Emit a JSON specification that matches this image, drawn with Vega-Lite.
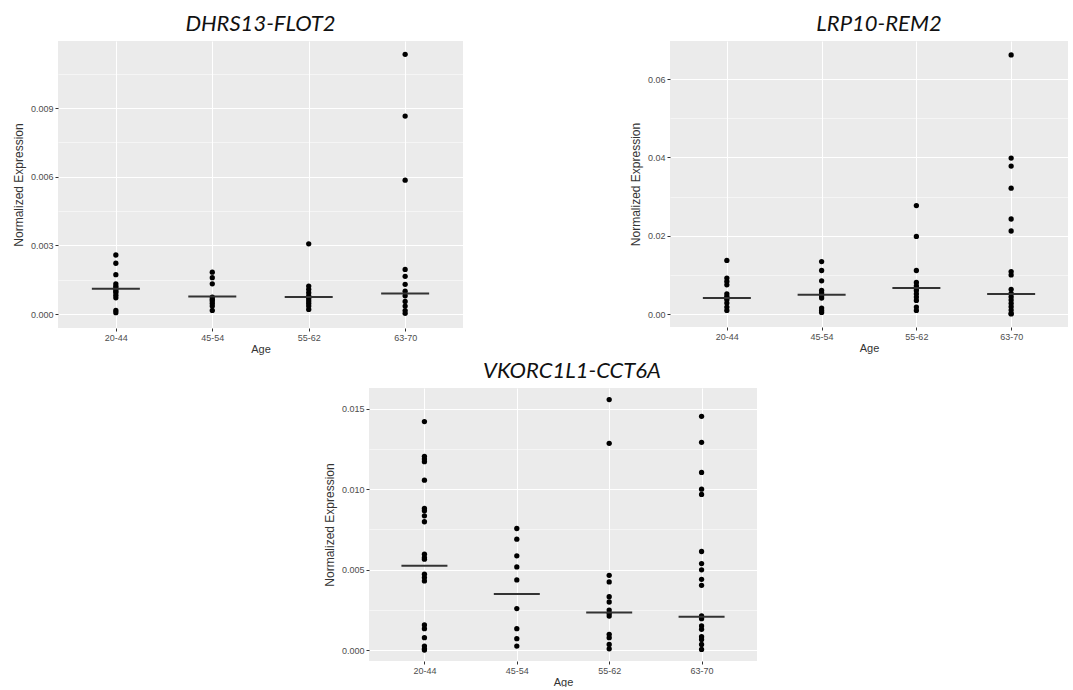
{
  "$schema": "https://vega.github.io/schema/vega-lite/v6.json",
  "background": "white",
  "padding": {"left": 12, "top": 13, "right": 0, "bottom": 0},
  "datasets": {
    "pts": [
      {"gene": "DHRS13-FLOT2", "age": "20-44", "value": 0.00258},
      {"gene": "DHRS13-FLOT2", "age": "20-44", "value": 0.00222},
      {"gene": "DHRS13-FLOT2", "age": "20-44", "value": 0.00172},
      {"gene": "DHRS13-FLOT2", "age": "20-44", "value": 0.00132},
      {"gene": "DHRS13-FLOT2", "age": "20-44", "value": 0.00122},
      {"gene": "DHRS13-FLOT2", "age": "20-44", "value": 0.00115},
      {"gene": "DHRS13-FLOT2", "age": "20-44", "value": 0.00108},
      {"gene": "DHRS13-FLOT2", "age": "20-44", "value": 0.00100},
      {"gene": "DHRS13-FLOT2", "age": "20-44", "value": 0.00093},
      {"gene": "DHRS13-FLOT2", "age": "20-44", "value": 0.00082},
      {"gene": "DHRS13-FLOT2", "age": "20-44", "value": 0.00071},
      {"gene": "DHRS13-FLOT2", "age": "20-44", "value": 0.00016},
      {"gene": "DHRS13-FLOT2", "age": "20-44", "value": 0.00006},
      {"gene": "DHRS13-FLOT2", "age": "45-54", "value": 0.00183},
      {"gene": "DHRS13-FLOT2", "age": "45-54", "value": 0.00159},
      {"gene": "DHRS13-FLOT2", "age": "45-54", "value": 0.00132},
      {"gene": "DHRS13-FLOT2", "age": "45-54", "value": 0.00074},
      {"gene": "DHRS13-FLOT2", "age": "45-54", "value": 0.00065},
      {"gene": "DHRS13-FLOT2", "age": "45-54", "value": 0.00057},
      {"gene": "DHRS13-FLOT2", "age": "45-54", "value": 0.00046},
      {"gene": "DHRS13-FLOT2", "age": "45-54", "value": 0.00035},
      {"gene": "DHRS13-FLOT2", "age": "45-54", "value": 0.00016},
      {"gene": "DHRS13-FLOT2", "age": "55-62", "value": 0.00307},
      {"gene": "DHRS13-FLOT2", "age": "55-62", "value": 0.00122},
      {"gene": "DHRS13-FLOT2", "age": "55-62", "value": 0.00108},
      {"gene": "DHRS13-FLOT2", "age": "55-62", "value": 0.00093},
      {"gene": "DHRS13-FLOT2", "age": "55-62", "value": 0.00079},
      {"gene": "DHRS13-FLOT2", "age": "55-62", "value": 0.00068},
      {"gene": "DHRS13-FLOT2", "age": "55-62", "value": 0.00057},
      {"gene": "DHRS13-FLOT2", "age": "55-62", "value": 0.00046},
      {"gene": "DHRS13-FLOT2", "age": "55-62", "value": 0.00035},
      {"gene": "DHRS13-FLOT2", "age": "55-62", "value": 0.00020},
      {"gene": "DHRS13-FLOT2", "age": "63-70", "value": 0.01135},
      {"gene": "DHRS13-FLOT2", "age": "63-70", "value": 0.00865},
      {"gene": "DHRS13-FLOT2", "age": "63-70", "value": 0.00585},
      {"gene": "DHRS13-FLOT2", "age": "63-70", "value": 0.00195},
      {"gene": "DHRS13-FLOT2", "age": "63-70", "value": 0.00165},
      {"gene": "DHRS13-FLOT2", "age": "63-70", "value": 0.00130},
      {"gene": "DHRS13-FLOT2", "age": "63-70", "value": 0.00100},
      {"gene": "DHRS13-FLOT2", "age": "63-70", "value": 0.00080},
      {"gene": "DHRS13-FLOT2", "age": "63-70", "value": 0.00055},
      {"gene": "DHRS13-FLOT2", "age": "63-70", "value": 0.00035},
      {"gene": "DHRS13-FLOT2", "age": "63-70", "value": 0.00015},
      {"gene": "DHRS13-FLOT2", "age": "63-70", "value": 0.00003},
      {"gene": "LRP10-REM2", "age": "20-44", "value": 0.01368},
      {"gene": "LRP10-REM2", "age": "20-44", "value": 0.00918},
      {"gene": "LRP10-REM2", "age": "20-44", "value": 0.00832},
      {"gene": "LRP10-REM2", "age": "20-44", "value": 0.00747},
      {"gene": "LRP10-REM2", "age": "20-44", "value": 0.00518},
      {"gene": "LRP10-REM2", "age": "20-44", "value": 0.00449},
      {"gene": "LRP10-REM2", "age": "20-44", "value": 0.00408},
      {"gene": "LRP10-REM2", "age": "20-44", "value": 0.00365},
      {"gene": "LRP10-REM2", "age": "20-44", "value": 0.00280},
      {"gene": "LRP10-REM2", "age": "20-44", "value": 0.00179},
      {"gene": "LRP10-REM2", "age": "20-44", "value": 0.00092},
      {"gene": "LRP10-REM2", "age": "45-54", "value": 0.01341},
      {"gene": "LRP10-REM2", "age": "45-54", "value": 0.01112},
      {"gene": "LRP10-REM2", "age": "45-54", "value": 0.00849},
      {"gene": "LRP10-REM2", "age": "45-54", "value": 0.00602},
      {"gene": "LRP10-REM2", "age": "45-54", "value": 0.00536},
      {"gene": "LRP10-REM2", "age": "45-54", "value": 0.00467},
      {"gene": "LRP10-REM2", "age": "45-54", "value": 0.00408},
      {"gene": "LRP10-REM2", "age": "45-54", "value": 0.00153},
      {"gene": "LRP10-REM2", "age": "45-54", "value": 0.00092},
      {"gene": "LRP10-REM2", "age": "45-54", "value": 0.00041},
      {"gene": "LRP10-REM2", "age": "55-62", "value": 0.02770},
      {"gene": "LRP10-REM2", "age": "55-62", "value": 0.01983},
      {"gene": "LRP10-REM2", "age": "55-62", "value": 0.01112},
      {"gene": "LRP10-REM2", "age": "55-62", "value": 0.00806},
      {"gene": "LRP10-REM2", "age": "55-62", "value": 0.00722},
      {"gene": "LRP10-REM2", "age": "55-62", "value": 0.00663},
      {"gene": "LRP10-REM2", "age": "55-62", "value": 0.00602},
      {"gene": "LRP10-REM2", "age": "55-62", "value": 0.00518},
      {"gene": "LRP10-REM2", "age": "55-62", "value": 0.00434},
      {"gene": "LRP10-REM2", "age": "55-62", "value": 0.00347},
      {"gene": "LRP10-REM2", "age": "55-62", "value": 0.00179},
      {"gene": "LRP10-REM2", "age": "55-62", "value": 0.00092},
      {"gene": "LRP10-REM2", "age": "63-70", "value": 0.06615},
      {"gene": "LRP10-REM2", "age": "63-70", "value": 0.03983},
      {"gene": "LRP10-REM2", "age": "63-70", "value": 0.03778},
      {"gene": "LRP10-REM2", "age": "63-70", "value": 0.03214},
      {"gene": "LRP10-REM2", "age": "63-70", "value": 0.02427},
      {"gene": "LRP10-REM2", "age": "63-70", "value": 0.02120},
      {"gene": "LRP10-REM2", "age": "63-70", "value": 0.01085},
      {"gene": "LRP10-REM2", "age": "63-70", "value": 0.01000},
      {"gene": "LRP10-REM2", "age": "63-70", "value": 0.00632},
      {"gene": "LRP10-REM2", "age": "63-70", "value": 0.00530},
      {"gene": "LRP10-REM2", "age": "63-70", "value": 0.00444},
      {"gene": "LRP10-REM2", "age": "63-70", "value": 0.00359},
      {"gene": "LRP10-REM2", "age": "63-70", "value": 0.00274},
      {"gene": "LRP10-REM2", "age": "63-70", "value": 0.00188},
      {"gene": "LRP10-REM2", "age": "63-70", "value": 0.00103},
      {"gene": "LRP10-REM2", "age": "63-70", "value": 0.00017},
      {"gene": "LRP10-REM2", "age": "63-70", "value": 0.00005},
      {"gene": "VKORC1L1-CCT6A", "age": "20-44", "value": 0.01421},
      {"gene": "VKORC1L1-CCT6A", "age": "20-44", "value": 0.01205},
      {"gene": "VKORC1L1-CCT6A", "age": "20-44", "value": 0.01188},
      {"gene": "VKORC1L1-CCT6A", "age": "20-44", "value": 0.01172},
      {"gene": "VKORC1L1-CCT6A", "age": "20-44", "value": 0.01057},
      {"gene": "VKORC1L1-CCT6A", "age": "20-44", "value": 0.00881},
      {"gene": "VKORC1L1-CCT6A", "age": "20-44", "value": 0.00866},
      {"gene": "VKORC1L1-CCT6A", "age": "20-44", "value": 0.00835},
      {"gene": "VKORC1L1-CCT6A", "age": "20-44", "value": 0.00798},
      {"gene": "VKORC1L1-CCT6A", "age": "20-44", "value": 0.00596},
      {"gene": "VKORC1L1-CCT6A", "age": "20-44", "value": 0.00575},
      {"gene": "VKORC1L1-CCT6A", "age": "20-44", "value": 0.00565},
      {"gene": "VKORC1L1-CCT6A", "age": "20-44", "value": 0.00472},
      {"gene": "VKORC1L1-CCT6A", "age": "20-44", "value": 0.00451},
      {"gene": "VKORC1L1-CCT6A", "age": "20-44", "value": 0.00430},
      {"gene": "VKORC1L1-CCT6A", "age": "20-44", "value": 0.00156},
      {"gene": "VKORC1L1-CCT6A", "age": "20-44", "value": 0.00133},
      {"gene": "VKORC1L1-CCT6A", "age": "20-44", "value": 0.00077},
      {"gene": "VKORC1L1-CCT6A", "age": "20-44", "value": 0.00025},
      {"gene": "VKORC1L1-CCT6A", "age": "20-44", "value": 0.00008},
      {"gene": "VKORC1L1-CCT6A", "age": "20-44", "value": 0.00000},
      {"gene": "VKORC1L1-CCT6A", "age": "45-54", "value": 0.00756},
      {"gene": "VKORC1L1-CCT6A", "age": "45-54", "value": 0.00690},
      {"gene": "VKORC1L1-CCT6A", "age": "45-54", "value": 0.00586},
      {"gene": "VKORC1L1-CCT6A", "age": "45-54", "value": 0.00517},
      {"gene": "VKORC1L1-CCT6A", "age": "45-54", "value": 0.00436},
      {"gene": "VKORC1L1-CCT6A", "age": "45-54", "value": 0.00258},
      {"gene": "VKORC1L1-CCT6A", "age": "45-54", "value": 0.00133},
      {"gene": "VKORC1L1-CCT6A", "age": "45-54", "value": 0.00071},
      {"gene": "VKORC1L1-CCT6A", "age": "45-54", "value": 0.00025},
      {"gene": "VKORC1L1-CCT6A", "age": "55-62", "value": 0.01558},
      {"gene": "VKORC1L1-CCT6A", "age": "55-62", "value": 0.01286},
      {"gene": "VKORC1L1-CCT6A", "age": "55-62", "value": 0.00465},
      {"gene": "VKORC1L1-CCT6A", "age": "55-62", "value": 0.00424},
      {"gene": "VKORC1L1-CCT6A", "age": "55-62", "value": 0.00332},
      {"gene": "VKORC1L1-CCT6A", "age": "55-62", "value": 0.00299},
      {"gene": "VKORC1L1-CCT6A", "age": "55-62", "value": 0.00249},
      {"gene": "VKORC1L1-CCT6A", "age": "55-62", "value": 0.00229},
      {"gene": "VKORC1L1-CCT6A", "age": "55-62", "value": 0.00212},
      {"gene": "VKORC1L1-CCT6A", "age": "55-62", "value": 0.00098},
      {"gene": "VKORC1L1-CCT6A", "age": "55-62", "value": 0.00077},
      {"gene": "VKORC1L1-CCT6A", "age": "55-62", "value": 0.00035},
      {"gene": "VKORC1L1-CCT6A", "age": "55-62", "value": 0.00008},
      {"gene": "VKORC1L1-CCT6A", "age": "63-70", "value": 0.01454},
      {"gene": "VKORC1L1-CCT6A", "age": "63-70", "value": 0.01292},
      {"gene": "VKORC1L1-CCT6A", "age": "63-70", "value": 0.01105},
      {"gene": "VKORC1L1-CCT6A", "age": "63-70", "value": 0.01001},
      {"gene": "VKORC1L1-CCT6A", "age": "63-70", "value": 0.00968},
      {"gene": "VKORC1L1-CCT6A", "age": "63-70", "value": 0.00613},
      {"gene": "VKORC1L1-CCT6A", "age": "63-70", "value": 0.00538},
      {"gene": "VKORC1L1-CCT6A", "age": "63-70", "value": 0.00499},
      {"gene": "VKORC1L1-CCT6A", "age": "63-70", "value": 0.00440},
      {"gene": "VKORC1L1-CCT6A", "age": "63-70", "value": 0.00403},
      {"gene": "VKORC1L1-CCT6A", "age": "63-70", "value": 0.00212},
      {"gene": "VKORC1L1-CCT6A", "age": "63-70", "value": 0.00195},
      {"gene": "VKORC1L1-CCT6A", "age": "63-70", "value": 0.00150},
      {"gene": "VKORC1L1-CCT6A", "age": "63-70", "value": 0.00129},
      {"gene": "VKORC1L1-CCT6A", "age": "63-70", "value": 0.00083},
      {"gene": "VKORC1L1-CCT6A", "age": "63-70", "value": 0.00066},
      {"gene": "VKORC1L1-CCT6A", "age": "63-70", "value": 0.00035},
      {"gene": "VKORC1L1-CCT6A", "age": "63-70", "value": 0.00004}
    ],
    "med": [
      {"gene": "DHRS13-FLOT2", "age": "20-44", "value": 0.00110},
      {"gene": "DHRS13-FLOT2", "age": "45-54", "value": 0.00077},
      {"gene": "DHRS13-FLOT2", "age": "55-62", "value": 0.00074},
      {"gene": "DHRS13-FLOT2", "age": "63-70", "value": 0.00090},
      {"gene": "LRP10-REM2", "age": "20-44", "value": 0.00408},
      {"gene": "LRP10-REM2", "age": "45-54", "value": 0.00492},
      {"gene": "LRP10-REM2", "age": "55-62", "value": 0.00663},
      {"gene": "LRP10-REM2", "age": "63-70", "value": 0.00513},
      {"gene": "VKORC1L1-CCT6A", "age": "20-44", "value": 0.00524},
      {"gene": "VKORC1L1-CCT6A", "age": "45-54", "value": 0.00349},
      {"gene": "VKORC1L1-CCT6A", "age": "55-62", "value": 0.00233},
      {"gene": "VKORC1L1-CCT6A", "age": "63-70", "value": 0.00208}
    ]
  },
  "vconcat": [
    {
      "hconcat": [
        {
          "width": 405,
          "height": 287,
          "title": {"text": "DHRS13-FLOT2", "offset": 5},
          "layer": [
            {
              "data": {"name": "pts"},
              "transform": [{"filter": "datum.gene === 'DHRS13-FLOT2'"}],
              "mark": {"type": "circle", "size": 28, "color": "black", "opacity": 1},
              "encoding": {
                "x": {"field": "age", "type": "ordinal", "scale": {"type": "point", "padding": 0.6}, "axis": {"title": "Age", "labelAngle": 0, "grid": true}},
                "y": {"field": "value", "type": "quantitative", "scale": {"domain": [-0.00061, 0.01193], "nice": false, "zero": false}, "axis": {"title": "Normalized Expression", "values": [0, 0.003, 0.006, 0.009], "format": ".3f", "grid": true}}
              }
            },
            {
              "data": {"name": "med"},
              "transform": [{"filter": "datum.gene === 'DHRS13-FLOT2'"}],
              "mark": {"type": "tick", "size": 48, "thickness": 2, "color": "#333333", "opacity": 1},
              "encoding": {
                "x": {"field": "age", "type": "ordinal"},
                "y": {"field": "value", "type": "quantitative", "axis": {"orient": "right", "values": [0.0015, 0.0045, 0.0075, 0.0105], "labels": false, "ticks": false, "domain": false, "title": null, "grid": true, "gridWidth": 0.5}}
              }
            }
          ],
          "resolve": {"axis": {"y": "independent"}}
        },
        {
          "width": 398,
          "height": 286,
          "title": {"text": "LRP10-REM2", "offset": 5, "dx": 10},
          "layer": [
            {
              "data": {"name": "pts"},
              "transform": [{"filter": "datum.gene === 'LRP10-REM2'"}],
              "mark": {"type": "circle", "size": 28, "color": "black", "opacity": 1},
              "encoding": {
                "x": {"field": "age", "type": "ordinal", "scale": {"type": "point", "padding": 0.6}, "axis": {"title": "Age", "labelAngle": 0, "grid": true}},
                "y": {"field": "value", "type": "quantitative", "scale": {"domain": [-0.0033, 0.0697], "nice": false, "zero": false}, "axis": {"title": "Normalized Expression", "values": [0, 0.02, 0.04, 0.06], "format": ".2f", "grid": true}}
              }
            },
            {
              "data": {"name": "med"},
              "transform": [{"filter": "datum.gene === 'LRP10-REM2'"}],
              "mark": {"type": "tick", "size": 48, "thickness": 2, "color": "#333333", "opacity": 1},
              "encoding": {
                "x": {"field": "age", "type": "ordinal"},
                "y": {"field": "value", "type": "quantitative", "axis": {"orient": "right", "values": [0.01, 0.03, 0.05], "labels": false, "ticks": false, "domain": false, "title": null, "grid": true, "gridWidth": 0.5}}
              }
            }
          ],
          "resolve": {"axis": {"y": "independent"}}
        }
      ],
      "spacing": 166
    },
    {
      "width": 388,
      "height": 273,
      "title": {"text": "VKORC1L1-CCT6A", "offset": 5, "dx": 9},
      "layer": [
        {
          "data": {"name": "pts"},
          "transform": [{"filter": "datum.gene === 'VKORC1L1-CCT6A'"}],
          "mark": {"type": "circle", "size": 28, "color": "black", "opacity": 1},
          "encoding": {
            "x": {"field": "age", "type": "ordinal", "scale": {"type": "point", "padding": 0.6}, "axis": {"title": "Age", "labelAngle": 0, "grid": true}},
            "y": {"field": "value", "type": "quantitative", "scale": {"domain": [-0.00068, 0.0163], "nice": false, "zero": false}, "axis": {"title": "Normalized Expression", "values": [0, 0.005, 0.01, 0.015], "format": ".3f", "grid": true}}
          }
        },
        {
          "data": {"name": "med"},
          "transform": [{"filter": "datum.gene === 'VKORC1L1-CCT6A'"}],
          "mark": {"type": "tick", "size": 46, "thickness": 2, "color": "#333333", "opacity": 1},
          "encoding": {
            "x": {"field": "age", "type": "ordinal"},
            "y": {"field": "value", "type": "quantitative", "axis": {"orient": "right", "values": [0.0025, 0.0075, 0.0125], "labels": false, "ticks": false, "domain": false, "title": null, "grid": true, "gridWidth": 0.5}}
          }
        }
      ],
      "resolve": {"axis": {"y": "independent"}}
    }
  ],
  "spacing": 6,
  "center": true,
  "config": {
    "view": {"fill": "#EBEBEB", "stroke": null},
    "axis": {
      "domain": false,
      "tickColor": "#333333",
      "tickSize": 3,
      "labelColor": "#4D4D4D",
      "labelFont": "Liberation Sans",
      "labelFontSize": 9,
      "labelPadding": 2,
      "titleFont": "Liberation Sans",
      "titleFontSize": 12,
      "titleFontWeight": "normal",
      "titleColor": "#333333",
      "titlePadding": 5,
      "gridColor": "#FFFFFF",
      "gridWidth": 1,
      "gridOpacity": 1
    },
    "axisX": {"titlePadding": 1, "titleFontSize": 11},
    "title": {"font": "Lato", "fontStyle": "italic", "fontSize": 22, "fontWeight": "normal", "color": "#111111", "anchor": "middle", "frame": "group"}
  }
}
